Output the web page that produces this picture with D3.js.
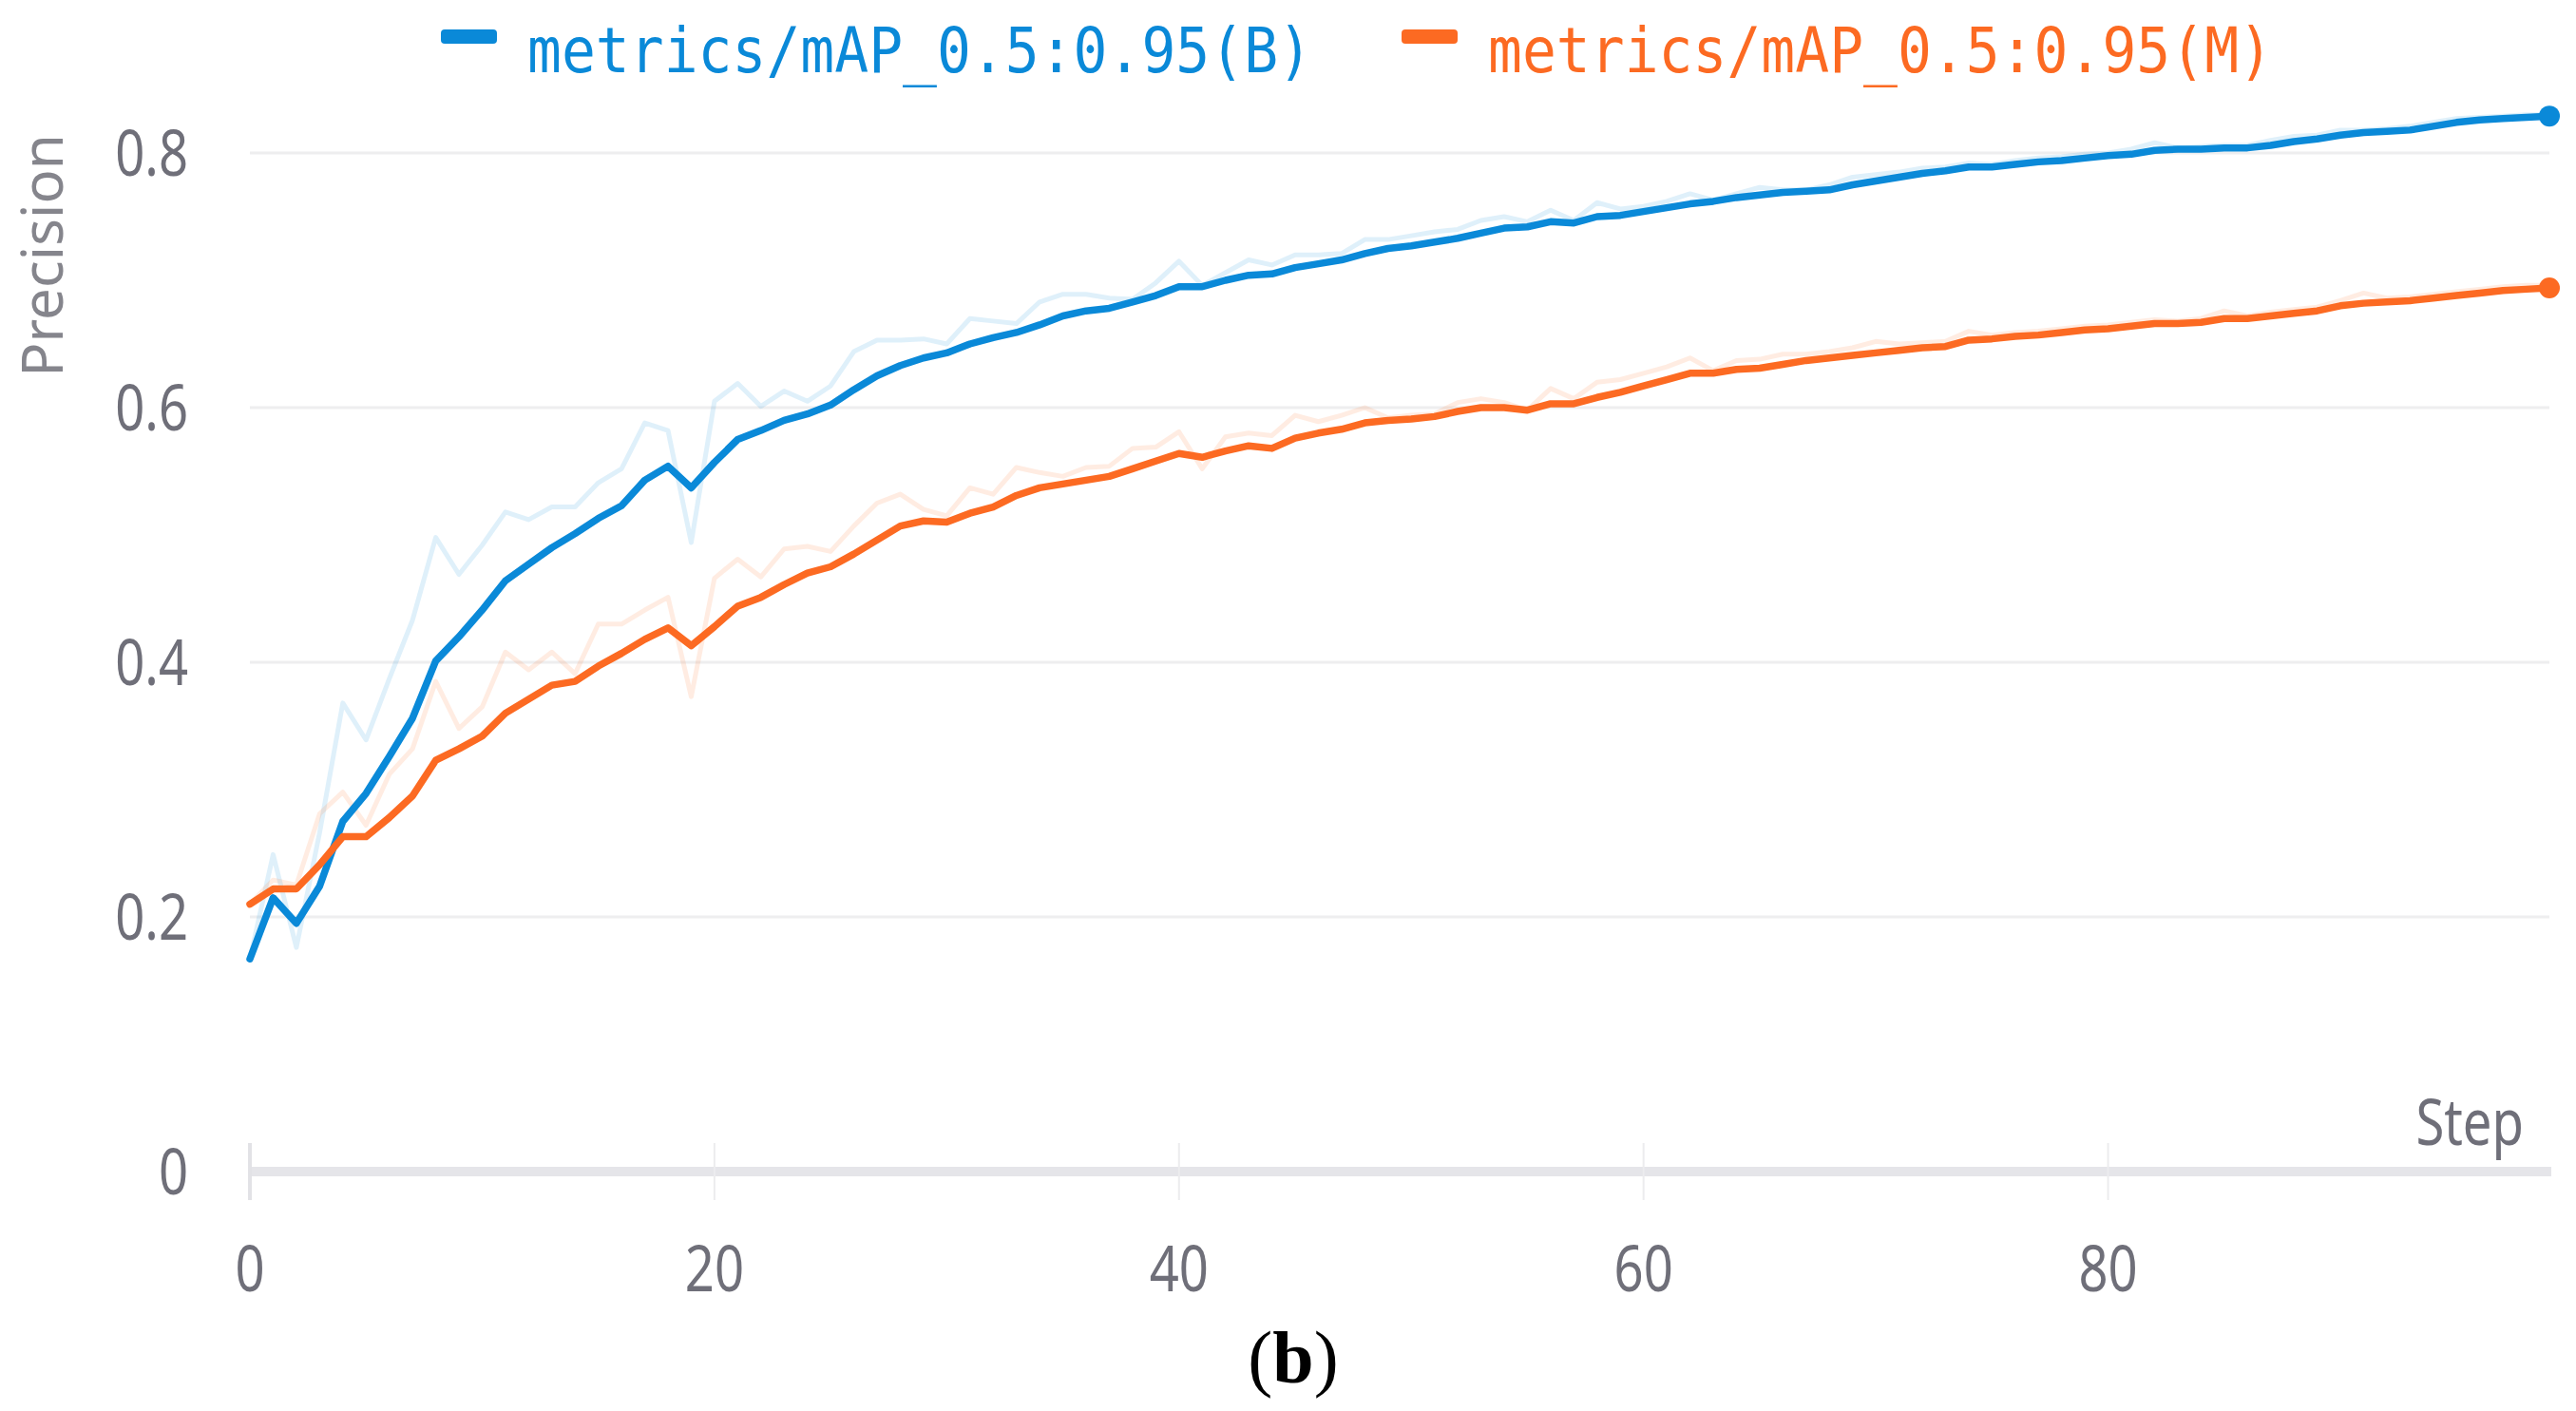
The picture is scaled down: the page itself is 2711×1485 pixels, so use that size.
<!DOCTYPE html>
<html>
<head>
<meta charset="utf-8">
<script src="https://cdn.jsdelivr.net/npm/d3@7"></script>
<style>
  html, body { margin: 0; padding: 0; background: #ffffff; }
  svg { display: block; }
</style>
</head>
<body>
<svg id="chart" width="2711" height="1485"></svg>
<script>
// ---------- data ----------
const steps = d3.range(0, 100);
const seriesNames = ["metrics/mAP_0.5:0.95(B)", "metrics/mAP_0.5:0.95(M)"];
const xTicks = [0, 20, 40, 60, 80];
const yTicks = [0, 0.2, 0.4, 0.6, 0.8];
const yTickLabels = ["0", "0.2", "0.4", "0.6", "0.8"];
const yTitle = "Precision";
const xTitle = "Step";
const caption = "b";

// smoothed and raw values, series B
const boxSmooth = [0.167,0.215,0.195,0.224,0.275,0.297,0.326,0.356,0.401,0.420,
  0.441,0.464,0.477,0.490,0.501,0.513,0.523,0.543,0.554,0.537,
  0.557,0.575,0.582,0.590,0.595,0.602,0.614,0.625,0.633,0.639,
  0.643,0.650,0.655,0.659,0.665,0.672,0.676,0.678,0.683,0.688,
  0.695,0.695,0.700,0.704,0.705,0.710,0.713,0.716,0.721,0.725,
  0.727,0.730,0.733,0.737,0.741,0.742,0.746,0.745,0.750,0.751,
  0.754,0.757,0.760,0.762,0.765,0.767,0.769,0.770,0.771,0.775,
  0.778,0.781,0.784,0.786,0.789,0.789,0.791,0.793,0.794,0.796,
  0.798,0.799,0.802,0.803,0.803,0.804,0.804,0.806,0.809,0.811,
  0.814,0.816,0.817,0.818,0.821,0.824,0.826,0.827,0.828,0.829];
const boxRaw = [0.167,0.249,0.176,0.266,0.368,0.339,0.387,0.433,0.498,0.469,
  0.492,0.518,0.512,0.522,0.522,0.541,0.552,0.588,0.582,0.494,
  0.605,0.619,0.601,0.613,0.605,0.617,0.644,0.653,0.653,0.654,
  0.650,0.670,0.668,0.666,0.683,0.689,0.689,0.686,0.685,0.698,
  0.715,0.696,0.706,0.716,0.712,0.720,0.720,0.721,0.732,0.732,
  0.735,0.738,0.740,0.747,0.750,0.746,0.755,0.747,0.761,0.756,
  0.758,0.762,0.768,0.763,0.768,0.773,0.771,0.771,0.775,0.781,
  0.783,0.785,0.788,0.789,0.792,0.791,0.794,0.796,0.797,0.799,
  0.800,0.803,0.808,0.804,0.805,0.806,0.806,0.810,0.813,0.814,
  0.818,0.818,0.819,0.821,0.824,0.827,0.828,0.829,0.830,0.830];
// smoothed and raw values, series M
const maskSmooth = [0.210,0.222,0.222,0.241,0.263,0.263,0.278,0.295,0.323,0.332,
  0.342,0.360,0.371,0.382,0.385,0.397,0.407,0.418,0.427,0.413,
  0.428,0.444,0.451,0.461,0.470,0.475,0.485,0.496,0.507,0.511,
  0.510,0.517,0.522,0.531,0.537,0.540,0.543,0.546,0.552,0.558,
  0.564,0.561,0.566,0.570,0.568,0.576,0.580,0.583,0.588,0.590,
  0.591,0.593,0.597,0.600,0.600,0.598,0.603,0.603,0.608,0.612,
  0.617,0.622,0.627,0.627,0.630,0.631,0.634,0.637,0.639,0.641,
  0.643,0.645,0.647,0.648,0.653,0.654,0.656,0.657,0.659,0.661,
  0.662,0.664,0.666,0.666,0.667,0.670,0.670,0.672,0.674,0.676,
  0.680,0.682,0.683,0.684,0.686,0.688,0.690,0.692,0.693,0.694];
const maskRaw = [0.210,0.229,0.225,0.281,0.298,0.272,0.312,0.332,0.385,0.348,
  0.365,0.408,0.394,0.408,0.391,0.430,0.430,0.441,0.451,0.373,
  0.466,0.481,0.467,0.489,0.491,0.487,0.507,0.525,0.532,0.520,
  0.515,0.537,0.532,0.553,0.549,0.546,0.553,0.554,0.568,0.569,
  0.581,0.552,0.577,0.580,0.578,0.594,0.589,0.594,0.600,0.592,
  0.594,0.595,0.604,0.607,0.604,0.598,0.615,0.607,0.620,0.622,
  0.627,0.632,0.639,0.629,0.637,0.638,0.642,0.642,0.644,0.647,
  0.652,0.650,0.651,0.652,0.660,0.657,0.659,0.660,0.662,0.664,
  0.665,0.667,0.669,0.668,0.670,0.676,0.672,0.675,0.677,0.679,
  0.684,0.690,0.686,0.687,0.689,0.691,0.693,0.695,0.696,0.696];

// ---------- layout / style ----------
const colors = ["#0a89d8", "#fc6a22"];
const svg = d3.select("#chart");
svg.append("rect").attr("width", 2711).attr("height", 1485).attr("fill", "#ffffff");

const x = d3.scaleLinear().domain([0, 99]).range([263, 2683]);
const y = d3.scaleLinear().domain([0, 0.8]).range([1233, 161]);

const tickFont = "'Noto Sans', 'Open Sans', sans-serif";
const tickColor = "#6f6f79";

// horizontal gridlines
svg.append("g").selectAll("line")
  .data(yTicks.filter(d => d > 0))
  .join("line")
  .attr("x1", x(0)).attr("x2", x(99))
  .attr("y1", d => y(d)).attr("y2", d => y(d))
  .attr("stroke", "#eeeeef").attr("stroke-width", 3);

// x axis: thick base band + ticks
svg.append("line")
  .attr("x1", x(0)).attr("x2", x(99) + 2)
  .attr("y1", y(0)).attr("y2", y(0))
  .attr("stroke", "#e5e5e9").attr("stroke-width", 10);

svg.append("g").selectAll("line")
  .data(xTicks)
  .join("line")
  .attr("x1", d => x(d)).attr("x2", d => x(d))
  .attr("y1", y(0) - 30).attr("y2", y(0) + 30)
  .attr("stroke", d => d === 0 ? "#e2e2e6" : "#ececee")
  .attr("stroke-width", d => d === 0 ? 4 : 2);

// x tick labels
svg.append("g").selectAll("text")
  .data(xTicks)
  .join("text")
  .attr("transform", d => `translate(${x(d)},1359) scale(0.8,1)`)
  .attr("text-anchor", "middle")
  .attr("font-family", tickFont)
  .attr("font-size", 68)
  .attr("fill", tickColor)
  .text(d => d3.format("d")(d));

// y tick labels
svg.append("g").selectAll("text")
  .data(yTicks)
  .join("text")
  .attr("transform", d => `translate(198,${y(d) + 24}) scale(0.8,1)`)
  .attr("text-anchor", "end")
  .attr("font-family", tickFont)
  .attr("font-size", 68)
  .attr("fill", tickColor)
  .text((d, i) => yTickLabels[i]);

// axis titles
svg.append("text")
  .attr("transform", "translate(66,269) rotate(-90)")
  .attr("text-anchor", "middle")
  .attr("font-family", tickFont)
  .attr("font-size", 60)
  .attr("fill", "#85858c")
  .text(yTitle);

svg.append("text")
  .attr("transform", "translate(2656,1205) scale(0.8,1)")
  .attr("text-anchor", "end")
  .attr("font-family", tickFont)
  .attr("font-size", 68)
  .attr("fill", tickColor)
  .text(xTitle);

// lines
const line = d3.line().x((d, i) => x(steps[i])).y(d => y(d));
const raws = [boxRaw, maskRaw];
const smooths = [boxSmooth, maskSmooth];

raws.forEach((r, k) => {
  svg.append("path")
    .datum(r)
    .attr("d", line)
    .attr("fill", "none")
    .attr("stroke", colors[k])
    .attr("stroke-opacity", 0.13)
    .attr("stroke-width", 5)
    .attr("stroke-linejoin", "round");
});
smooths.forEach((s, k) => {
  svg.append("path")
    .datum(s)
    .attr("d", line)
    .attr("fill", "none")
    .attr("stroke", colors[k])
    .attr("stroke-width", 7.5)
    .attr("stroke-linejoin", "round")
    .attr("stroke-linecap", "round");
  svg.append("circle")
    .attr("cx", x(steps[steps.length - 1]))
    .attr("cy", y(s[s.length - 1]))
    .attr("r", 11)
    .attr("fill", colors[k]);
});

// legend
const legendX = [464, 1475];
seriesNames.forEach((name, k) => {
  const g = svg.append("g").attr("transform", `translate(${legendX[k]},0)`);
  g.append("rect")
    .attr("x", 0).attr("y", 31)
    .attr("width", 59).attr("height", 15)
    .attr("rx", 4)
    .attr("fill", colors[k]);
  g.append("text")
    .attr("x", 91).attr("y", 76)
    .attr("font-family", "'DejaVu Sans Mono', 'Liberation Mono', monospace")
    .attr("font-size", 66)
    .attr("textLength", 826)
    .attr("lengthAdjust", "spacingAndGlyphs")
    .attr("fill", colors[k])
    .text(name);
});

// caption
const cap = svg.append("text")
  .attr("x", 1361).attr("y", 1455)
  .attr("text-anchor", "middle")
  .attr("font-family", "'Liberation Serif', 'DejaVu Serif', serif")
  .attr("font-size", 78)
  .attr("fill", "#000000");
cap.append("tspan").text("(");
cap.append("tspan").attr("font-weight", "bold").text(caption);
cap.append("tspan").text(")");
</script>
</body>
</html>
